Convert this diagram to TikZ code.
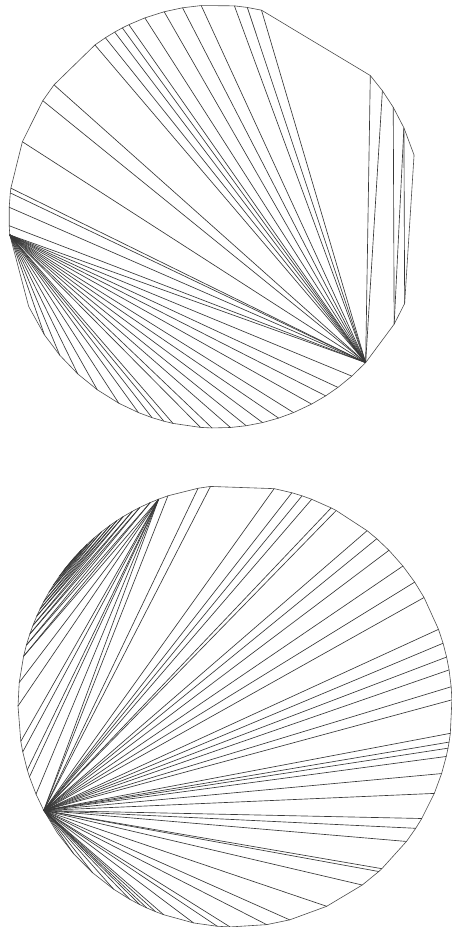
\documentclass[tikz,border=0pt]{standalone}
\begin{document}
\begin{tikzpicture}[x=1pt,y=1pt,
  chord/.style={line width=0.65pt, draw=black!78},
  rim/.style={line width=0.6pt, draw=black!70, line join=round}]
\useasboundingbox[fill=white] (0,0) rectangle (452,-927);
% ---------- top polygon ----------
\foreach \a [count=\i] in {-43.7,-30.6,-24.3,16.9,24.8,31.1,36.5,41.8,77.3,81.3,84.9,94.1,99.3,104.5,110.1,114.9,116.9,119.3,122.3,125.8,141.5,146.8,159.3,172.3,173.6,177.5,182.5,185,205.2,214,221,228.1,235,242,248,252,255.4,258,265.7,268.9,274,278.4,283,287.6,292,297.5,302,306.1,311}
  \path (216,-216.5) ++(\a:207 and 211.5) coordinate (t\i);
\draw[rim] (t1) \foreach \i in {2,...,49} {-- (t\i)} -- cycle;
% fan from hub A (t1)
\foreach \j in {7,8,9,...,28} \draw[chord] (t1) -- (t\j);
% right side
\draw[chord] (t2) -- (t6);
\draw[chord] (t2) -- (t5);
\draw[chord] (t5) -- (t3);
% fan from hub B (t28)
\foreach \j in {30,...,49} \draw[chord] (t28) -- (t\j);
% ---------- bottom polygon ----------
\foreach \a [count=\i] in {-109.2,-101,-94.7,-91.3,-81.6,-75.4,-65,-54.1,-48.5,-47.4,-37.8,-33.6,-30.6,-23.3,-17.8,-13.2,-11,-9.4,-7.1,1.6,5.0,9.4,12.8,16.5,20.3,29.4,34.1,39.3,44.8,49.2,52.5,62.2,63.7,69.3,72.0,74.8,79.6,96.5,99.8,108.0,110.6,113,116,118.2,121,123,125.1,128,130.5,132.9,135,137.5,140,142,144,146.8,149,151.8,154,156,158.6,161,164,167,173.9,180,189.2,192,196.8,198.7,203.5,208.2,215,222,229,236,241,244,246,248.5}
  \path (235,-706) ++(\a:217 and 221) coordinate (b\i);
\draw[rim] (b1) \foreach \i in {2,...,80} {-- (b\i)} -- cycle;
% fan from hub C (b72)
\foreach \j in {1,...,41,74,75,...,80} \draw[chord] (b72) -- (b\j);
% fan from hub E (b41)
\foreach \j in {64,...,71} \draw[chord] (b41) -- (b\j);
% zigzag between E and D
\foreach \k in {0,...,10} {
  \pgfmathtruncatemacro\ua{42+\k}\pgfmathtruncatemacro\lb{64-\k}
  \draw[chord] (b\ua) -- (b\lb);}
\foreach \k in {0,...,9} {
  \pgfmathtruncatemacro\ua{42+\k}\pgfmathtruncatemacro\lb{63-\k}
  \draw[chord] (b\ua) -- (b\lb);}
\end{tikzpicture}
\end{document}
